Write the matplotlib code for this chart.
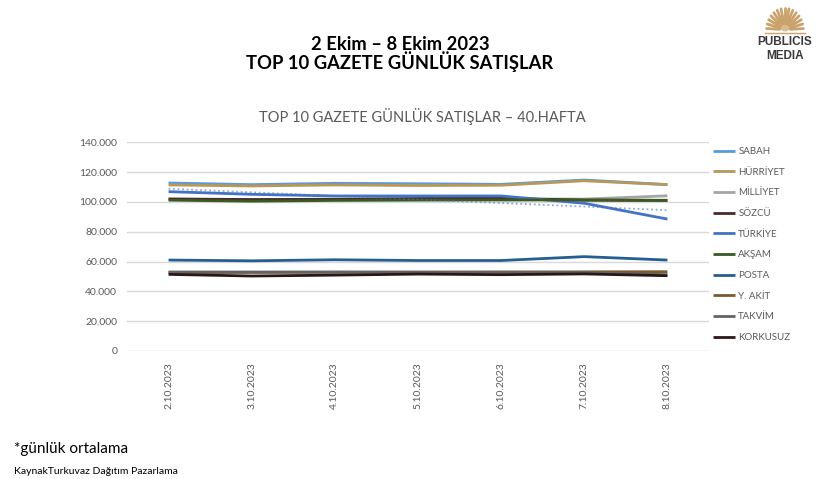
import numpy as np
import matplotlib.pyplot as plt

dates = ['2.10.2023', '3.10.2023', '4.10.2023', '5.10.2023',
         '6.10.2023', '7.10.2023', '8.10.2023']

gazeteler = ['SABAH', 'HÜRRİYET', 'MİLLİYET', 'SÖZCÜ', 'TÜRKİYE',
             'AKŞAM', 'POSTA', 'Y. AKİT', 'TAKVİM', 'KORKUSUZ']

sabah = [112700, 111600, 112500, 112200, 111800, 114700, 111600]
hurriyet = [111400, 110700, 111400, 111000, 111200, 114200, 111600]
milliyet = [101800, 101500, 101700, 101800, 102000, 101900, 104100]
sozcu = [102000, 101600, 101800, 102300, 102400, 101200, 101000]
turkiye = [106900, 105100, 104000, 104000, 104000, 99100, 88500]
aksam = [101200, 100500, 101000, 101200, 101300, 101300, 101100]
posta = [61000, 60500, 61200, 60700, 60700, 63300, 61000]
yakit = [52600, 52700, 52800, 52900, 53000, 53100, 53200]
takvim = [53000, 53000, 53000, 52900, 52800, 52700, 51200]
korkusuz = [51400, 50300, 50900, 51600, 51200, 51700, 50500]

renkler = ['#5B9BD5', '#B8975A', '#A5A5A5', '#4A2A2A', '#4472C4',
           '#3B5A22', '#255E91', '#7A5C2E', '#636363', '#2A1818']

seriler = [sabah, hurriyet, milliyet, sozcu, turkiye,
           aksam, posta, yakit, takvim, korkusuz]

plt.rcParams['font.family'] = ['Lato', 'DejaVu Sans']

fig = plt.figure(figsize=(8.27, 4.79), dpi=100)
ax = fig.add_axes([127 / 827, 1 - 351 / 479, (709 - 127) / 827, (351 - 142.3) / 479])

x = np.arange(len(dates))
cizgiler = []
for ad, y, c in zip(gazeteler, seriler, renkler):
    l, = ax.plot(x, y, color=c, lw=2, label=ad, solid_capstyle='butt')
    cizgiler.append(l)

# Türkiye için doğrusal eğilim çizgisi
k = np.polyfit(x, turkiye, 1)
ax.plot(x, np.polyval(k, x), color='#4472C4', lw=1.3, ls=(0, (1, 1.5)), alpha=0.6)

ax.set_xlim(-0.5, 6.5)
ax.set_ylim(0, 140000)
ax.set_yticks(np.arange(0, 140001, 20000))
ax.set_yticklabels([f'{v:,}'.replace(',', '.') for v in range(0, 140001, 20000)])
ax.set_xticks(x)
ax.set_xticklabels(dates, rotation=90)
ax.tick_params(length=0, labelsize=7.5, labelcolor='#595959')
ax.tick_params(axis='y', pad=7)
ax.tick_params(axis='x', pad=8)
ax.grid(axis='y', color='#D9D9D9', lw=1)
ax.set_axisbelow(True)
for s in ax.spines.values():
    s.set_visible(False)

fig.legend(handles=cizgiler, loc='upper left', bbox_to_anchor=(713 / 827, 1 - 147 / 479),
           frameon=False, fontsize=7, labelspacing=1.2, handlelength=2.3,
           handletextpad=0.3, borderpad=0, borderaxespad=0, labelcolor='#595959')

fig.text(400 / 827, 1 - 44 / 479, '2 Ekim – 8 Ekim 2023', ha='center', va='center',
         fontsize=13.2, fontweight='bold', color='black')
fig.text(400 / 827, 1 - 62 / 479, 'TOP 10 GAZETE GÜNLÜK SATIŞLAR', ha='center', va='center',
         fontsize=13.2, fontweight='bold', color='black')
fig.text(422 / 827, 1 - 116 / 479, 'TOP 10 GAZETE GÜNLÜK SATIŞLAR – 40.HAFTA', ha='center',
         va='center', fontsize=10.5, color='#595959')

fig.text(14 / 827, 1 - 449 / 479, '*günlük ortalama', ha='left', va='center', fontsize=11)
fig.text(14 / 827, 1 - 471 / 479, 'KaynakTurkuvaz Dağıtım Pazarlama', ha='left', va='center',
         fontsize=7.5)

# logo
lax = fig.add_axes([762 / 827, 1 - 36 / 479, 46 / 827, 34 / 479])
lax.set_xlim(-1.25, 1.25)
lax.set_ylim(-0.3, 1.3)
lax.axis('off')
for a in np.linspace(0.05, np.pi - 0.05, 15):
    lax.plot([0.3 * np.cos(a), 1.0 * np.cos(a)], [0.3 * np.sin(a), 1.0 * np.sin(a)],
             color='#C9A36B', lw=2, solid_capstyle='round')
lax.add_patch(plt.Circle((0, 0.3), 0.35, color='#D8BC90'))
lax.plot([-1.1, 1.1], [-0.15, -0.15], color='#C9A36B', lw=1)
fig.text(785 / 827, 1 - 42 / 479, 'PUBLICIS', ha='center', va='center', fontsize=8.5,
         fontweight='bold', color='#3A3A3A', family='Liberation Sans')
fig.text(785 / 827, 1 - 56 / 479, 'MEDIA', ha='center', va='center', fontsize=8.5,
         fontweight='bold', color='#3A3A3A', family='Liberation Sans')

plt.savefig('out.png', dpi=100)
